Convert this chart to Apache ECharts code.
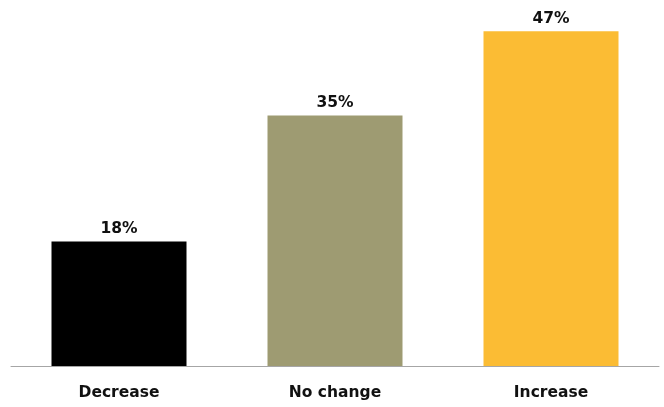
<!DOCTYPE html>
<html>
<head>
<meta charset="utf-8">
<script src="https://cdn.jsdelivr.net/npm/echarts@6/dist/echarts.min.js"></script>
<style>html,body{margin:0;padding:0;background:#fff;}#c{width:664px;height:407px;}</style>
</head>
<body>
<div id="c"></div>
<script>
const categories = ["Decrease", "No change", "Increase"];
const values = [17.5, 35.2, 47.0];
const colors = ["#000000", "#9e9b72", "#fbbc34"];

const chart = echarts.init(document.getElementById('c'));
chart.setOption({
  animation: false,
  grid: {left: 11, right: 5, top: 10, bottom: 41},
  xAxis: {
    type: 'category',
    data: categories,
    axisLine: {lineStyle: {color: '#a6a6a6', width: 1}},
    axisTick: {show: false},
    axisLabel: {color: '#111', fontSize: 15.5, fontWeight: 'bold', fontFamily: 'DejaVu Sans', margin: 19}
  },
  yAxis: {type: 'value', min: 0, max: 50, show: false, splitLine: {show: false}},
  series: [{
    type: 'bar',
    barWidth: '62.5%',
    data: values.map((v, i) => ({value: v, itemStyle: {color: colors[i]}})),
    label: {
      show: true, position: 'top', distance: 4,
      formatter: p => Math.round(p.value) + '%',
      color: '#111', fontSize: 15.5, fontWeight: 'bold', fontFamily: 'DejaVu Sans'
    }
  }]
});
</script>
</body>
</html>
